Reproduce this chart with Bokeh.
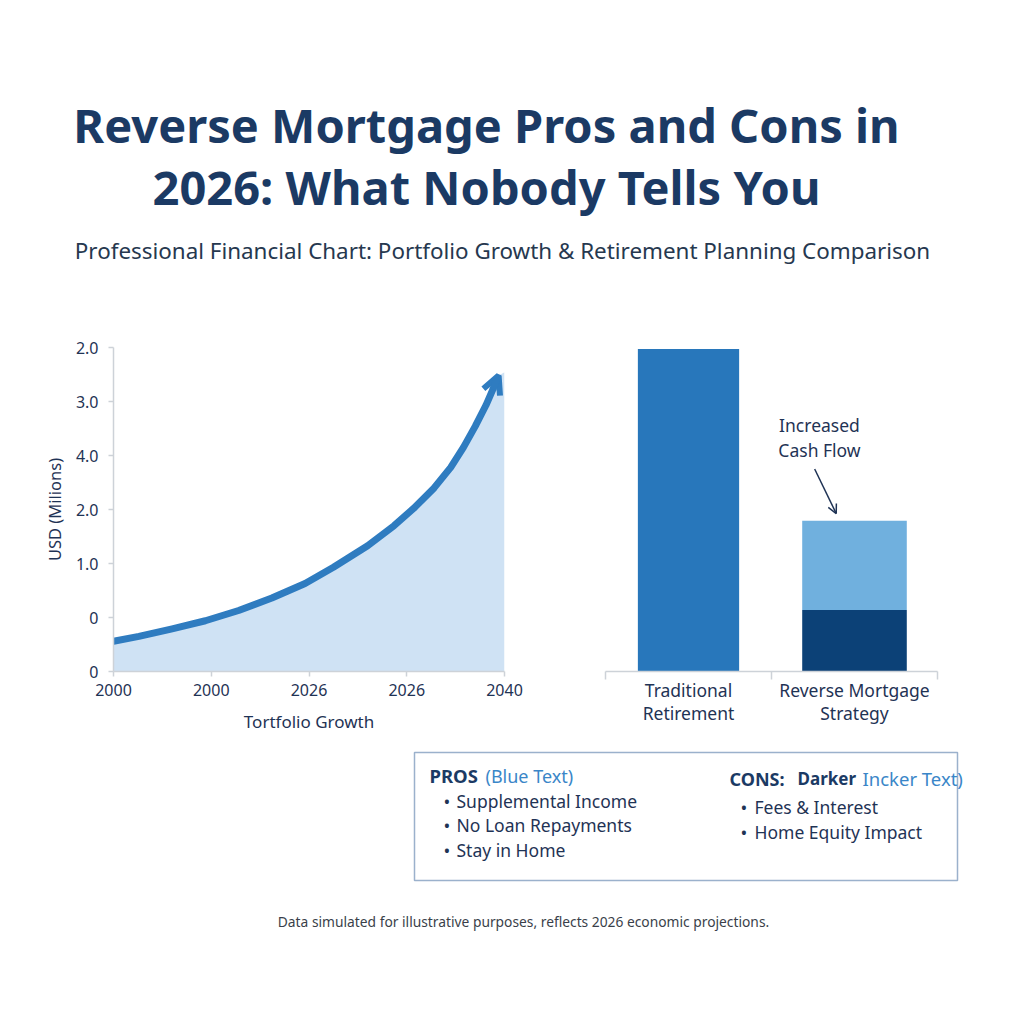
from bokeh.plotting import figure
from bokeh.models import Range1d, Label, FixedTicker, Arrow, OpenHead, BoxAnnotation
from bokeh.layouts import column, row
from bokeh.embed import file_html
from bokeh.resources import INLINE

# ---------------- data ----------------
title_lines = ["Reverse Mortgage Pros and Cons in", "2026: What Nobody Tells You"]
subtitle = "Professional Financial Chart: Portfolio Growth & Retirement Planning Comparison"
footnote = "Data simulated for illustrative purposes, reflects 2026 economic projections."

years = [2000, 2002.6, 2006.0, 2009.4, 2012.8, 2016.2, 2019.6, 2022.5, 2026.0, 2028.7,
         2030.7, 2032.8, 2034.5, 2035.8, 2037.0, 2038.1, 2038.8]
values = [0.56, 0.65, 0.79, 0.94, 1.13, 1.36, 1.63, 1.93, 2.33, 2.70,
          3.02, 3.40, 3.78, 4.15, 4.54, 4.93, 5.22]
arrow_tip_year = 2039.4
arrow_tip_value = 5.48
fill_end_year = 2040
fill_end_value = 5.54

x_tick_values = [2000, 2010, 2020, 2030, 2040]
x_tick_labels = ["2000", "2000", "2026", "2026", "2040"]
y_tick_values = [0, 1, 2, 3, 4, 5, 6]
y_tick_labels = ["0", "0", "1.0", "2.0", "4.0", "3.0", "2.0"]

categories = ["Traditional\nRetirement", "Reverse Mortgage\nStrategy"]
traditional_total = 1.99
reverse_base = 0.38
reverse_extra = 0.55
annotation_lines = ["Increased", "Cash Flow"]

pros_items = ["Supplemental Income", "No Loan Repayments", "Stay in Home"]
cons_items = ["Fees & Interest", "Home Equity Impact"]

NAVY = "#1b3a64"
TEXT = "#1f3355"
AXIS = "#cdd2d8"
FONT = "Noto Sans"

# ---------------- top (title) ----------------
top = figure(width=1024, height=320, x_range=Range1d(0, 1024), y_range=Range1d(320, 0),
             output_backend="svg", toolbar_location=None, min_border=0)
top.axis.visible = False
top.grid.visible = False
top.outline_line_color = None
for txt, yy in zip(title_lines, [124, 186]):
    top.add_layout(Label(x=486, y=yy, text=txt, text_align="center", text_baseline="middle",
                         text_font=FONT, text_font_style="bold", text_font_size="47px",
                         text_color=NAVY))
top.add_layout(Label(x=502, y=250, text=subtitle, text_align="center", text_baseline="middle",
                     text_font=FONT, text_font_size="22.4px", text_color="#26384f"))

# ---------------- left (line chart) ----------------
left = figure(width=540, height=420, x_range=Range1d(2000, 2040), y_range=Range1d(0, 6),
              output_backend="svg", toolbar_location=None,
              min_border_left=113, min_border_right=36, min_border_top=27, min_border_bottom=69)
left.grid.visible = False
left.outline_line_color = None

fill_x = years + [arrow_tip_year, fill_end_year]
fill_y = values + [arrow_tip_value, fill_end_value]
left.varea(x=fill_x, y1=[0] * len(fill_x), y2=fill_y, fill_color="#cfe2f4")
left.line(x=years, y=values, line_color="#2f7cc0", line_width=7, line_cap="round",
          line_join="round")
left.add_layout(Arrow(end=OpenHead(size=18, line_color="#2f7cc0", line_width=6),
                      x_start=years[-1], y_start=values[-1],
                      x_end=arrow_tip_year, y_end=arrow_tip_value,
                      line_color="#2f7cc0", line_width=7))

left.xaxis.ticker = FixedTicker(ticks=x_tick_values)
left.xaxis.major_label_overrides = {v: l for v, l in zip(x_tick_values, x_tick_labels)}
left.yaxis.ticker = FixedTicker(ticks=y_tick_values)
left.yaxis.major_label_overrides = {v: l for v, l in zip(y_tick_values, y_tick_labels)}
left.xaxis.axis_label = "Tortfolio Growth"
left.yaxis.axis_label = "USD (Milions)"
for ax in (left.xaxis, left.yaxis):
    ax.axis_line_color = AXIS
    ax.axis_line_width = 1.5
    ax.major_tick_line_color = AXIS
    ax.major_tick_line_width = 1.5
    ax.major_tick_out = 5
    ax.major_tick_in = 0
    ax.minor_tick_line_color = None
    ax.major_label_text_font = FONT
    ax.major_label_text_font_size = "16px"
    ax.major_label_text_color = TEXT
    ax.axis_label_text_font = FONT
    ax.axis_label_text_font_style = "normal"
    ax.axis_label_text_color = TEXT
left.xaxis.major_label_standoff = 7
left.yaxis.major_label_standoff = 10
left.xaxis.axis_label_text_font_size = "17px"
left.yaxis.axis_label_text_font_size = "16.5px"
left.xaxis.axis_label_standoff = 11
left.yaxis.axis_label_standoff = 7

# ---------------- right (bar chart) ----------------
right = figure(width=484, height=420, x_range=Range1d(0, 2), y_range=Range1d(0, 2.0),
               output_backend="svg", toolbar_location=None,
               min_border_left=65, min_border_right=87, min_border_top=27, min_border_bottom=69)
right.grid.visible = False
right.outline_line_color = None
right.yaxis.visible = False

centers = [i + 0.5 for i in range(len(categories))]
right.vbar(x=[centers[0]], top=[traditional_total], bottom=0, width=0.61,
           fill_color="#2877bb", line_color=None)
right.vbar(x=[centers[1]], top=[reverse_base], bottom=0, width=0.63,
           fill_color="#0c4177", line_color=None)
right.vbar(x=[centers[1]], top=[reverse_base + reverse_extra], bottom=reverse_base, width=0.63,
           fill_color="#70b0de", line_color=None)

right.xaxis.ticker = FixedTicker(ticks=centers, minor_ticks=[0, 1, 2])
right.xaxis.major_label_overrides = {c: l for c, l in zip(centers, categories)}
right.xaxis.axis_line_color = AXIS
right.xaxis.axis_line_width = 1.5
right.xaxis.major_tick_line_color = None
right.xaxis.minor_tick_line_color = AXIS
right.xaxis.minor_tick_line_width = 1.5
right.xaxis.minor_tick_out = 8
right.xaxis.minor_tick_in = 0
right.xaxis.major_label_standoff = -2
right.xaxis.major_label_text_font = FONT
right.xaxis.major_label_text_font_size = "17.5px"
right.xaxis.major_label_text_line_height = 0.97
right.xaxis.major_label_text_color = TEXT

for txt, yy in zip(annotation_lines, [1.519, 1.370]):
    right.add_layout(Label(x=1.289, y=yy, text=txt, text_align="center",
                           text_baseline="middle", text_font=FONT, text_font_size="17.5px",
                           text_color=TEXT))
right.add_layout(Arrow(end=OpenHead(size=9, line_color=TEXT, line_width=1.5),
                       x_start=1.26, y_start=1.25, x_end=1.39, y_end=0.975,
                       line_color=TEXT, line_width=1.5))

# ---------------- bottom (pros / cons box, footnote) ----------------
bottom = figure(width=1024, height=284, x_range=Range1d(0, 1024), y_range=Range1d(1024, 740),
                output_backend="svg", toolbar_location=None, min_border=0)
bottom.axis.visible = False
bottom.grid.visible = False
bottom.outline_line_color = None
bottom.add_layout(BoxAnnotation(left=414, right=957, top=752, bottom=880,
                                fill_color="white", fill_alpha=1,
                                line_color="#9bb1cc", line_alpha=1, line_width=1.5))


def lab(x, y, text, size="17.5px", color=TEXT, style="normal", align="left"):
    bottom.add_layout(Label(x=x, y=y, text=text, text_align=align, text_baseline="middle",
                            text_font=FONT, text_font_size=size, text_color=color,
                            text_font_style=style))


lab(429, 775, "PROS", size="18.5px", color=NAVY, style="bold")
lab(485, 775, "(Blue Text)", size="18px", color="#3a86c8")
for i, item in enumerate(pros_items):
    lab(443, 800 + i * 24.5, "\u2022", size="18px")
    lab(456, 800 + i * 24.5, item)
lab(729, 778, "CONS:", size="18px", color=NAVY, style="bold")
lab(797, 778, "Darker", size="17px", color=NAVY, style="bold")
lab(862, 778, "Incker Text)", size="18.5px", color="#3a86c8")
for i, item in enumerate(cons_items):
    lab(740, 806 + i * 25, "\u2022", size="18px")
    lab(754, 806 + i * 25, item)
lab(523, 921, footnote, size="13.8px", color="#3a3f4a", align="center")

layout = column(top, row(left, right), bottom)
open("out.html", "w").write(file_html(layout, INLINE))
